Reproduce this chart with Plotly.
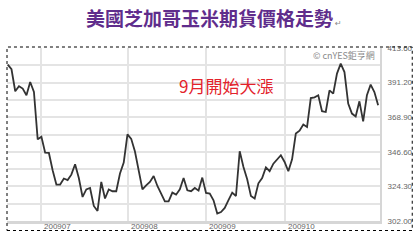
import plotly.graph_objects as go

# Daily closing prices (US cents/bushel), trading-day index 0..99
prices = [
    402.9, 399.9, 385.7, 388.9, 387.4, 383.1, 391.7, 385.2, 354.7, 356.4,
    346.1, 345.9, 334.7, 325.5, 325.5, 329.4, 328.4, 331.9, 338.6, 329.7,
    317.5, 322.4, 323.3, 311.7, 308.5, 327.2, 316.5, 322.4, 321.2, 321.2,
    332.6, 339.7, 357.9, 355.0, 346.8, 333.6, 322.4, 325.0, 327.2, 331.0,
    324.6, 319.7, 314.7, 314.7, 320.3, 319.0, 322.4, 329.7, 321.8, 321.2,
    323.3, 321.6, 330.0, 320.1, 319.7, 315.4, 306.8, 307.8, 310.4, 315.4,
    320.3, 318.1, 347.0, 336.8, 328.9, 318.1, 316.5, 326.3, 329.7, 336.6,
    334.1, 339.0, 341.6, 344.4, 340.1, 334.1, 341.8, 358.4, 360.3, 364.2,
    362.6, 381.3, 381.8, 383.1, 372.8, 372.3, 386.3, 384.2, 397.1, 403.5,
    398.1, 377.7, 371.3, 369.5, 379.2, 366.3, 383.1, 390.0, 385.2, 376.6,
]
days = list(range(len(prices)))

month_labels = ["200907", "200908", "200909", "200910"]
month_start = [8.85, 32.2, 53.05, 74.0]

y_labels = ["302.00", "324.30", "346.60", "368.90", "391.20", "413.60"]
y_min, y_max = 302.0, 413.6
y_step = (y_max - y_min) / 10
y_grid = [y_min + k * y_step for k in range(11)]
y_text = [y_labels[k // 2] if k % 2 == 0 else "" for k in range(11)]

title = "美國芝加哥玉米期貨價格走勢"
note = "9月開始大漲"
mark = "© cnYES鉅亨網"

W, H = 420, 240
L, R, T, B = 7, 383, 48, 221
pw, ph = R - L, B - T

def px(x):
    return (x - L) / pw

def py(y):
    return (B - y) / ph

fig = go.Figure()
fig.add_trace(go.Scatter(
    x=days, y=prices, mode="lines",
    line=dict(color="#333333", width=1.8),
    hoverinfo="skip", showlegend=False,
))

fig.update_layout(
    width=W, height=H,
    margin=dict(l=L, r=W - R, t=T, b=H - B, pad=0),
    paper_bgcolor="white", plot_bgcolor="white",
    showlegend=False,
    xaxis=dict(
        range=[-0.2, 99.5], tickmode="array",
        tickvals=month_start, showticklabels=False,
        showgrid=True, gridcolor="#e4e4e4", gridwidth=1.5,
        showline=True, linecolor="#d6d6d6", linewidth=2.5,
        ticks="", zeroline=False,
        fixedrange=True,
    ),
    yaxis=dict(
        range=[y_min, y_max], side="right", tickmode="array",
        tickvals=y_grid, ticktext=y_text,
        showgrid=True, gridcolor="#e4e4e4", gridwidth=1.5,
        showline=True, linecolor="#d6d6d6", linewidth=2,
        ticks="", zeroline=False, ticklabelstandoff=4,
        tickfont=dict(family="Liberation Sans", size=8, color="#666666"),
        fixedrange=True,
    ),
)

# month labels, left-aligned at their gridlines
for pos, lab in zip(month_start, month_labels):
    fig.add_annotation(text=lab, xref="x", yref="paper", x=pos, y=py(226),
                       showarrow=False, xanchor="left", yanchor="middle", xshift=1,
                       font=dict(family="Liberation Sans", size=8, color="#666666"))

# white box behind the callout text (covers the gridlines)
fig.add_shape(type="rect", xref="paper", yref="paper",
              x0=px(130), x1=px(285), y0=py(108), y1=py(70),
              fillcolor="white", line=dict(width=0), layer="below")
# dotted outer frame
fig.add_shape(type="rect", xref="paper", yref="paper",
              x0=px(7), x1=px(415.5), y0=py(230.5), y1=py(47),
              line=dict(color="#000000", width=1, dash="dot"),
              fillcolor="rgba(0,0,0,0)", layer="above")

fig.add_annotation(text="<b>" + title + "</b>", xref="paper", yref="paper",
                   x=px(211), y=py(18), showarrow=False,
                   font=dict(family="Noto Sans CJK TC", size=19, color="#5f2d8c"),
                   xanchor="center", yanchor="middle")
fig.add_annotation(text="↵", xref="paper", yref="paper",
                   x=px(336), y=py(23), showarrow=False,
                   font=dict(family="DejaVu Sans", size=8, color="#888888"),
                   xanchor="left", yanchor="middle")
fig.add_annotation(text=note, xref="paper", yref="paper",
                   x=px(228), y=py(85), showarrow=False,
                   font=dict(family="Noto Sans CJK TC", size=17, color="#e3222b"),
                   xanchor="center", yanchor="middle")
fig.add_annotation(text=mark, xref="paper", yref="paper",
                   x=px(380), y=py(55), showarrow=False,
                   font=dict(family="Noto Sans CJK TC", size=9, color="#8a8a8a"),
                   xanchor="right", yanchor="middle")

fig.write_html("out.html")
